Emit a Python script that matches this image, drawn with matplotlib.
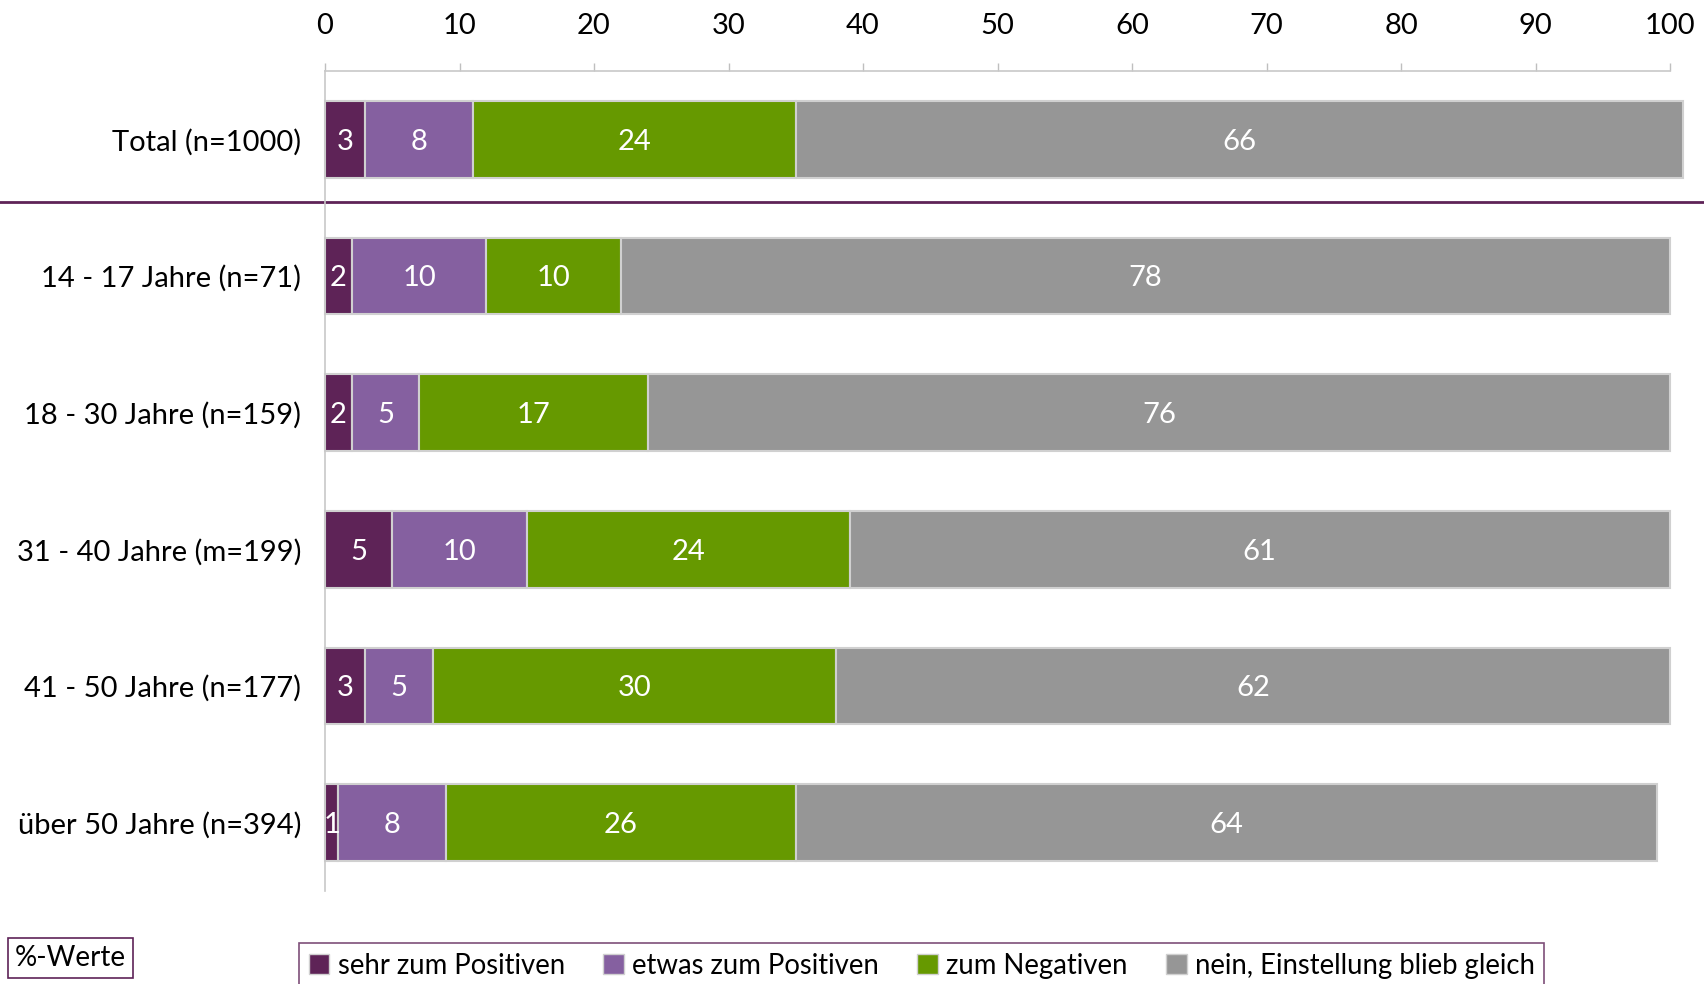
# stacked horizontal bars: Einstellung nach Altersgruppen

import matplotlib
matplotlib.use('Agg')
import matplotlib.pyplot as plt
import matplotlib.transforms as mtransforms
from matplotlib.patches import Patch
import numpy as np

plt.rcParams['font.family'] = ['Liberation Sans Narrow', 'Lato', 'DejaVu Sans']

groups = ['Total (n=1000)', '14 - 17 Jahre (n=71)', '18 - 30 Jahre (n=159)',
          '31 - 40 Jahre (m=199)', '41 - 50 Jahre (n=177)', 'über 50 Jahre (n=394)']
series = ['sehr zum Positiven', 'etwas zum Positiven', 'zum Negativen',
          'nein, Einstellung blieb gleich']
sehr_pos = [3, 2, 2, 5, 3, 1]
etwas_pos = [8, 10, 5, 10, 5, 8]
negativ = [24, 10, 17, 24, 30, 26]
gleich = [66, 78, 76, 61, 62, 64]
xticks = [0, 10, 20, 30, 40, 50, 60, 70, 80, 90, 100]

colors = ['#5e2357', '#8560a0', '#669900', '#969696']
purple = '#5e2357'
light = '#d0d0d0'

fig = plt.figure(figsize=(17.04, 9.84), dpi=100)
ax = fig.add_axes([325/1704, 1 - 891/984, (1670 - 325)/1704, (891 - 71)/984])

y = np.arange(len(groups))
left = np.zeros(len(groups))
for vals, col, name in zip([sehr_pos, etwas_pos, negativ, gleich], colors, series):
    vals = np.array(vals, dtype=float)
    bars = ax.barh(y, vals, left=left, height=0.56, color=col,
                   edgecolor=light, linewidth=1.5, label=name)
    for b, v in zip(bars, vals):
        b.set_clip_on(False)  # total row sums to 101
        ax.text(b.get_x() + b.get_width()/2, b.get_y() + b.get_height()/2,
                '%d' % v, ha='center', va='center_baseline', color='white',
                fontsize=21)
    left += vals

ax.set_xlim(0, 100)
ax.set_ylim(len(groups) - 0.5, -0.5)
ax.set_xticks(xticks)
ax.set_yticks(y)
ax.set_yticklabels(groups)
ax.xaxis.tick_top()
ax.tick_params(axis='x', which='both', length=6, color='#bfbfbf', width=1,
               labelsize=21, pad=17)
ax.tick_params(axis='y', length=0, labelsize=21, pad=17)

for s in ['right', 'bottom']:
    ax.spines[s].set_visible(False)
for s in ['top', 'left']:
    ax.spines[s].set_color('#c8c8c8')
    ax.spines[s].set_linewidth(1.2)

# separator under the total row across the whole figure
trans = mtransforms.blended_transform_factory(fig.transFigure, ax.transData)
ax.plot([0, 1], [0.46, 0.46], color=purple, linewidth=2, transform=trans,
        clip_on=False)

handles = [Patch(facecolor=c, edgecolor=light, linewidth=1) for c in colors]
leg = fig.legend(handles, series, loc='upper left', ncol=4,
                 bbox_to_anchor=(299/1704, 1 - 943/984), fontsize=19.8,
                 frameon=True, fancybox=False, handlelength=0.75,
                 handleheight=0.75, handletextpad=0.3, columnspacing=1.4,
                 borderpad=0.35, borderaxespad=0)
leg.get_frame().set_edgecolor(purple)
leg.get_frame().set_linewidth(1.2)

fig.text(15/1704, 1 - 958/984, '%-Werte', ha='left', va='center', fontsize=20,
         bbox=dict(boxstyle='square,pad=0.25', facecolor='white',
                   edgecolor=purple, linewidth=1.2))

plt.savefig('out.png', dpi=100)
plt.close()
